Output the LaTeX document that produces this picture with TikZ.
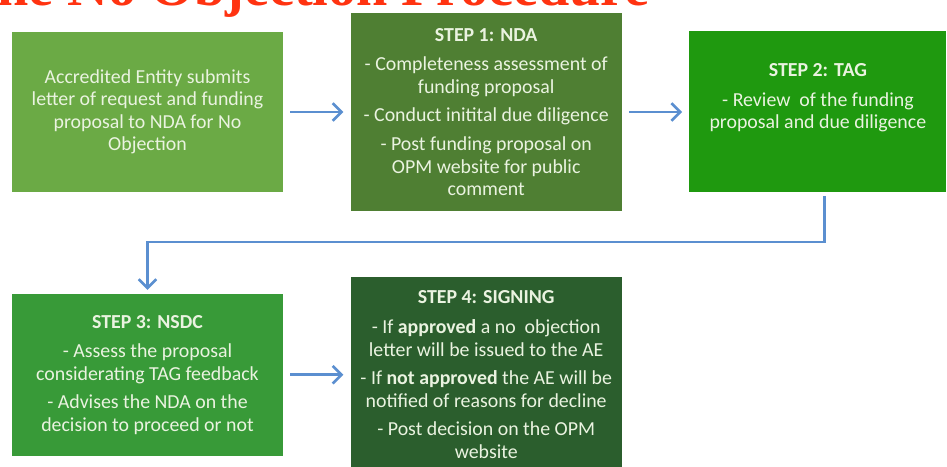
\documentclass[tikz,border=0pt]{standalone}
\usepackage{fontspec}
\setmainfont{Carlito}
\newfontfamily\titlefont{Liberation Serif}
\usetikzlibrary{arrows.meta,positioning}

\definecolor{aegreen}{HTML}{6BAA45}
\definecolor{ndagreen}{HTML}{4F7F33}
\definecolor{taggreen}{HTML}{1F990F}
\definecolor{nsdcgreen}{HTML}{389A38}
\definecolor{signgreen}{HTML}{2B5E2D}
\definecolor{boxtext}{HTML}{EAF3E0}
\definecolor{flowblue}{HTML}{5B8FD0}
\definecolor{titlered}{HTML}{FF3311}

\begin{document}
\begin{tikzpicture}[>={Straight Barb[length=5pt,width=10pt]}, node distance=1.34cm]

    \tikzstyle{stepbox}=[draw=none, text=boxtext, align=center, inner sep=2pt,
        font=\fontsize{11.3}{12.8}\selectfont, minimum width=5.42cm]
    \tikzstyle{flow}=[->, draw=flowblue, line width=1.5pt, shorten >=4pt, shorten <=4pt]

    \useasboundingbox (0,0) rectangle (18.94,9.32);
    \clip (0,0) rectangle (18.94,9.32);

    % title, only its lower part is on the page
    \node[anchor=base east, text=titlered, inner sep=0pt,
          font=\titlefont\bfseries\fontsize{32}{36}\selectfont] (title) at (13.0,9.21)
          {The No Objection Procedure};

    \node[stepbox, fill=aegreen, minimum height=3.2cm] (ae) at (2.95,7.08)
        {Accredited Entity submits\\ letter of request and funding\\ proposal to NDA for No\\ Objection};
    \node[stepbox, fill=ndagreen, minimum height=3.96cm] (nda) [right=of ae]
        {\textbf{STEP 1: NDA}\\[4pt]
         - Completeness assessment of\\ funding proposal\\[3.5pt]
         - Conduct initital due diligence\\[3.5pt]
         - Post funding proposal on\\ OPM website for public\\ comment};
    \node[stepbox, fill=taggreen, minimum width=5.14cm, minimum height=3.22cm] (tag) [right=of nda]
        {\textbf{STEP 2: TAG}\\[4pt]
         - Review\ \ of the funding\\ proposal and due diligence\\[5pt]\mbox{}};
    \node[stepbox, fill=nsdcgreen, minimum height=3.24cm] (nsdc) [below=2.02cm of ae]
        {\textbf{STEP 3: NSDC}\\[4pt]
         - Assess the proposal\\ considerating TAG feedback\\[3.5pt]
         - Advises the NDA on the\\ decision to proceed or not};
    \node[stepbox, fill=signgreen, minimum height=3.9cm] (sign) [right=of nsdc]
        {\textbf{STEP 4: SIGNING}\\[4pt]
         - If \textbf{approved} a no\ \ objection\\ letter will be issued to the AE\\[3.5pt]
         - If \textbf{not approved} the AE will be\\ notified of reasons for decline\\[3.5pt]
         - Post decision on the OPM\\ website};

    \draw[flow] (ae) -- (nda);
    \draw[flow] (nda) -- (tag);
    \draw[flow, shorten <=2pt, shorten >=2pt] ([xshift=0.13cm]tag.south) -- ++(0,-0.98) -| (nsdc.north);
    \draw[flow] (nsdc) -- (sign);

\end{tikzpicture}
\end{document}
